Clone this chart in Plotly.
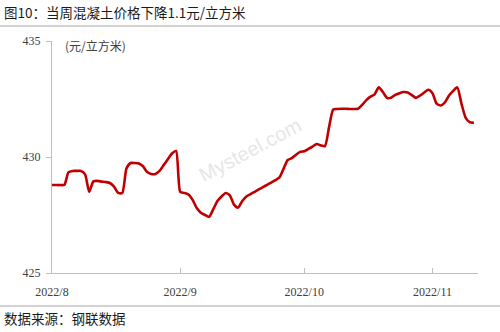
import plotly.graph_objects as go
import pandas as pd

start_date = "2022-08-01"
prices = [
    428.79, 428.79, 428.79, 428.80, 429.35, 429.40, 429.40, 429.40, 429.25, 428.50,
    428.95, 428.97, 428.94, 428.92, 428.88, 428.72, 428.45, 428.45, 429.50, 429.74,
    429.74, 429.72, 429.60, 429.35, 429.27, 429.27, 429.40, 429.65, 429.90, 430.15,
    430.26,
    428.50, 428.45, 428.38, 428.15, 427.80, 427.60, 427.50, 427.42, 427.75, 428.10,
    428.30, 428.45, 428.35, 427.95, 427.82, 428.10, 428.30, 428.40, 428.50, 428.60,
    428.70, 428.80, 428.90, 429.00, 429.12, 429.50, 429.87, 429.95, 430.10, 430.22,
    430.25, 430.35, 430.45, 430.56, 430.50, 430.47, 431.30, 432.05, 432.07, 432.08,
    432.08, 432.07, 432.07, 432.08, 432.25, 432.45, 432.60, 432.70, 433.00, 432.80,
    432.55, 432.55, 432.68, 432.75, 432.80, 432.78, 432.67, 432.55, 432.65, 432.78,
    432.90,
    432.75, 432.30, 432.22, 432.35, 432.65, 432.85, 433.00, 432.30, 431.70, 431.50,
    431.47,
]
dates = pd.date_range(start_date, periods=len(prices), freq="D")

tick_dates = ["2022-08-01", "2022-09-01", "2022-10-01", "2022-11-01"]
tick_labels = ["2022/8", "2022/9", "2022/10", "2022/11"]
y_ticks = [425, 430, 435]

title_text = "图10：当周混凝土价格下降1.1元/立方米"
unit_text = "(元/立方米)"
source_text = "数据来源：钢联数据"

fig = go.Figure()
fig.add_trace(go.Scatter(
    x=dates, y=prices, mode="lines",
    line=dict(color="#C00000", width=2.6, shape="spline", smoothing=0.6),
    hoverinfo="skip", showlegend=False,
))

axis_col = "#BFBFBF"
fig.update_layout(
    width=500, height=332,
    margin=dict(l=52, r=22, t=41, b=59),
    paper_bgcolor="white", plot_bgcolor="white",
    xaxis=dict(
        type="date", range=["2022-08-01", "2022-11-12"],
        tickvals=tick_dates, ticktext=tick_labels,
        showgrid=False, zeroline=False,
        showline=True, linecolor=axis_col, linewidth=1,
        ticks="inside", ticklen=5, tickcolor=axis_col,
        tickfont=dict(family="Liberation Serif", size=12, color="#404040"),
        ticklabelstandoff=8,
    ),
    yaxis=dict(
        range=[425, 435], tickvals=y_ticks,
        showgrid=False, zeroline=False,
        showline=True, linecolor=axis_col, linewidth=1,
        ticks="outside", ticklen=5, tickcolor=axis_col,
        tickfont=dict(family="Liberation Serif", size=12, color="#404040"),
        ticklabelstandoff=3,
    ),
)

plot_w = 500 - 52 - 22
plot_h = 332 - 41 - 59


def px_x(px):
    return (px - 52) / plot_w


def px_y(py):
    return (332 - 59 - py) / plot_h


annotations = [
    dict(text=title_text, x=px_x(2), y=px_y(12), xref="paper", yref="paper",
         showarrow=False, xanchor="left", yanchor="middle",
         font=dict(family="Noto Sans CJK SC", size=13.5, color="#1a1a1a")),
    dict(text=unit_text, x=px_x(63), y=px_y(45), xref="paper", yref="paper",
         showarrow=False, xanchor="left", yanchor="middle",
         font=dict(family="Noto Sans CJK SC", size=12, color="#404040")),
    dict(text=source_text, x=px_x(2), y=px_y(318), xref="paper", yref="paper",
         showarrow=False, xanchor="left", yanchor="middle",
         font=dict(family="Noto Sans CJK SC", size=13.5, color="#1a1a1a")),
    dict(text="Mysteel.com", x=px_x(250), y=px_y(150), xref="paper", yref="paper",
         showarrow=False, textangle=-28,
         font=dict(family="Liberation Sans", size=20, color="#E6E6E6")),
]
fig.update_layout(annotations=annotations)

fig.update_layout(shapes=[
    dict(type="line", xref="paper", yref="paper",
         x0=px_x(0), x1=px_x(500), y0=px_y(26), y1=px_y(26),
         line=dict(color="#A6A6A6", width=1)),
    dict(type="line", xref="paper", yref="paper",
         x0=px_x(0), x1=px_x(500), y0=px_y(306), y1=px_y(306),
         line=dict(color="#A6A6A6", width=1)),
])

fig.write_html("out.html")
